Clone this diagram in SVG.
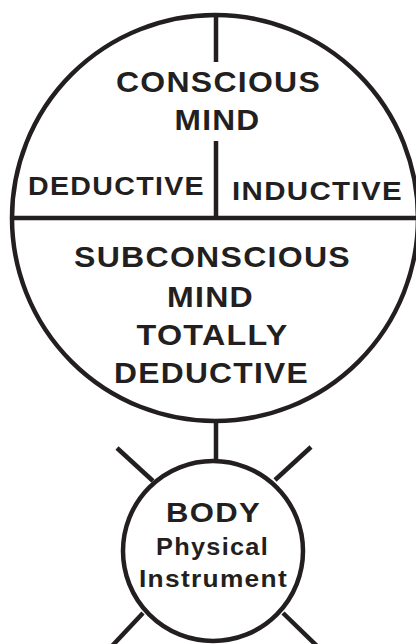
<svg xmlns="http://www.w3.org/2000/svg" width="416" height="644" viewBox="0 0 416 644">
<style>
.ln{fill:none;stroke:#231f20;stroke-width:4.5}
.t{font-family:"Liberation Sans",Arial,sans-serif;font-weight:bold;fill:#231f20;text-anchor:middle;letter-spacing:1.2px}
.big{font-size:30px}
.mid{font-size:26px}
.sm{font-size:24px}
</style>
<rect width="416" height="644" fill="#fff"/>
<g id="connectors">
<line class="ln" x1="216" y1="421" x2="216" y2="461"/>
<line class="ln" x1="117" y1="448" x2="153" y2="481"/>
<line class="ln" x1="311" y1="447" x2="275" y2="480"/>
<line class="ln" x1="143" y1="613" x2="112" y2="646"/>
<line class="ln" x1="283" y1="613" x2="317" y2="646"/>
</g>
<g id="mind">
<circle class="ln" cx="215" cy="218" r="203"/>
<line class="ln" x1="12" y1="218" x2="418" y2="218"/>
<line class="ln" x1="216" y1="15" x2="216" y2="62"/>
<line class="ln" x1="216" y1="141" x2="216" y2="218"/>
<text class="t big" x="218.5" y="92" textLength="205" lengthAdjust="spacingAndGlyphs">CONSCIOUS</text>
<text class="t big" x="217.5" y="130" textLength="86" lengthAdjust="spacingAndGlyphs">MIND</text>
<text class="t mid" x="116.5" y="195" textLength="177" lengthAdjust="spacingAndGlyphs">DEDUCTIVE</text>
<text class="t mid" x="317.5" y="200" textLength="171" lengthAdjust="spacingAndGlyphs">INDUCTIVE</text>
<text class="t big" x="212.5" y="267" textLength="277" lengthAdjust="spacingAndGlyphs">SUBCONSCIOUS</text>
<text class="t big" x="210.5" y="307" textLength="87" lengthAdjust="spacingAndGlyphs">MIND</text>
<text class="t big" x="212.5" y="345" textLength="152" lengthAdjust="spacingAndGlyphs">TOTALLY</text>
<text class="t big" x="211.5" y="383" textLength="195" lengthAdjust="spacingAndGlyphs">DEDUCTIVE</text>
</g>
<g id="body">
<circle class="ln" cx="213" cy="551" r="90"/>
<text class="t" x="213.5" y="522" style="font-size:28px" textLength="95" lengthAdjust="spacingAndGlyphs">BODY</text>
<text class="t sm" x="212.5" y="555" textLength="113" lengthAdjust="spacingAndGlyphs">Physical</text>
<text class="t sm" x="213.5" y="587" textLength="149" lengthAdjust="spacingAndGlyphs">Instrument</text>
</g>
</svg>
